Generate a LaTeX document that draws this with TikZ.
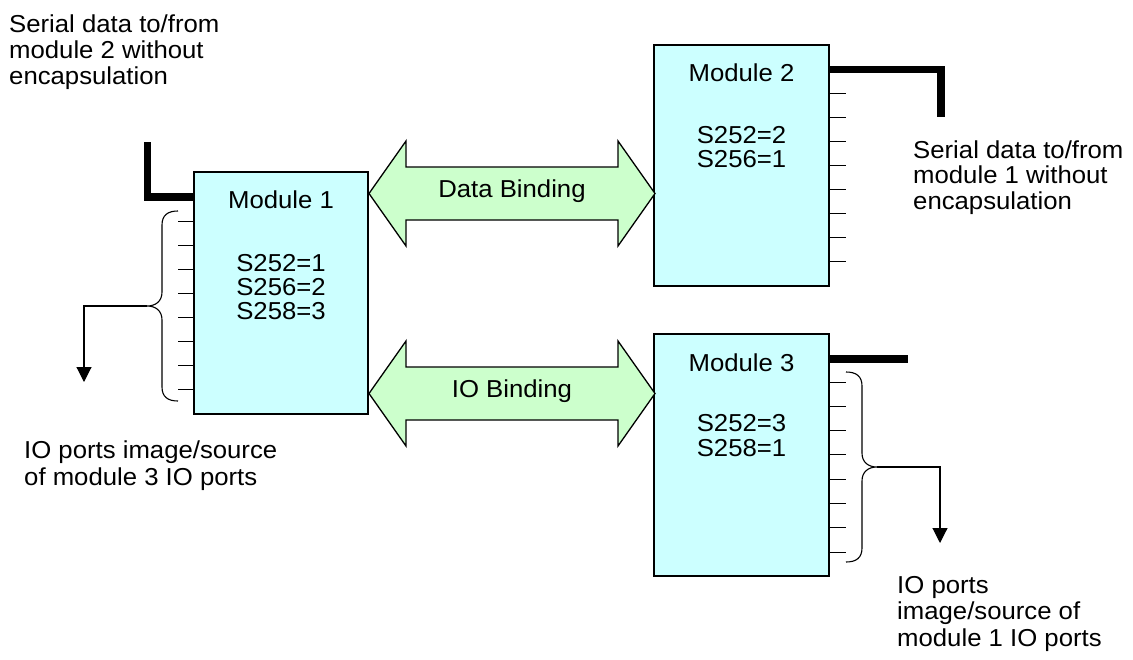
\documentclass[tikz,border=0pt]{standalone}
\usepackage{fontspec}
\setmainfont{Liberation Sans}[FakeStretch=1.05]
\usetikzlibrary{arrows.meta}
\definecolor{boxfill}{HTML}{CCFFFF}
\definecolor{arrowfill}{HTML}{CCFFCC}
\newcommand{\txtblock}[3]{{\fontsize{24.5}{#1}\selectfont\begin{tabular}[t]{@{}#2@{}}#3\end{tabular}}}
\begin{document}
\begin{tikzpicture}[x=1pt,y=-1pt,
  module/.style={draw, line width=1.3pt, fill=boxfill, inner sep=0pt},
  binding/.style={draw, line width=1.3pt, fill=arrowfill, line join=miter},
  port/.style={line width=1pt},
  serial/.style={line width=7.5pt},
  txt/.style={inner sep=0pt, font=\fontsize{24.5}{26.5}\selectfont},
  feed/.style={line width=1.1pt, -{Triangle[width=15pt,length=15pt]}},
  brace/.style={line width=1.1pt}
]
\useasboundingbox (0,0) rectangle (1133,659);

% modules
\node[module, minimum width=174pt, minimum height=242pt] (m1) at (281,293) {};
\node[module, minimum width=175pt, minimum height=241pt] (m2) at (741.5,165.5) {};
\node[module, minimum width=175pt, minimum height=242pt] (m3) at (741.5,455) {};

\node[txt, anchor=base] (m1name) at (281,208) {Module 1};
\node[txt, anchor=base] (m1regs) at (281,271) {\txtblock{24}{c}{S252=1\\S256=2\\S258=3}};
\node[txt, anchor=base] (m2name) at (741.5,81) {Module 2};
\node[txt, anchor=base] (m2regs) at (741.5,143) {\txtblock{24.5}{c}{S252=2\\S256=1}};
\node[txt, anchor=base] (m3name) at (741.5,371) {Module 3};
\node[txt, anchor=base] (m3regs) at (741.5,431) {\txtblock{25}{c}{S252=3\\S258=1}};

% bindings
\draw[binding] (369,193.5) -- (406,141) -- (406,167) -- (618,167) -- (618,141) -- (655,193.5)
  -- (618,246) -- (618,220) -- (406,220) -- (406,246) -- cycle;
\node[txt, anchor=base] (dbtext) at (512,197) {Data Binding};
\draw[binding] (369,393.5) -- (406,341) -- (406,367) -- (618,367) -- (618,341) -- (655,393.5)
  -- (618,446) -- (618,420) -- (406,420) -- (406,446) -- cycle;
\node[txt, anchor=base] (iotext) at (512,397) {IO Binding};

% ports
\foreach \i in {0,...,7} {
  \draw[port] (178,{221+24*\i}) -- (194,{221+24*\i});
  \draw[port] (829,{93+24.1*\i}) -- (846,{93+24.1*\i});
  \draw[port] (829,{382+24.3*\i}) -- (846,{382+24.3*\i});
}

% serial lines
\draw[serial] (147.5,142) |- (m1.west |- 0,197);
\draw[serial] (m2.east |- 0,69.5) -| (941,117);
\draw[serial] (m3.east |- 0,359) -- (908,359);

% braces
\coordinate (b1tip) at (147,306);
\coordinate (b1end) at (84,382);
\draw[brace] (178,211) .. controls (168,211) and (162,215) .. (162,225) -- (162,292)
  .. controls (162,301) and (156,306) .. (b1tip)
  .. controls (156,306) and (162,311) .. (162,320) -- (162,387)
  .. controls (162,397) and (168,401) .. (178,401);
\draw[feed] (b1tip) -| (b1end);

\coordinate (b3tip) at (877,467);
\coordinate (b3end) at (940,543);
\draw[brace] (846,372) .. controls (856,372) and (862,376) .. (862,386) -- (862,453)
  .. controls (862,462) and (868,467) .. (b3tip)
  .. controls (868,467) and (862,472) .. (862,481) -- (862,548)
  .. controls (862,558) and (856,562) .. (846,562);
\draw[feed] (b3tip) -| (b3end);

% outside texts
\node[txt, anchor=base west] (t1) at (9,32) {\txtblock{26}{l}{Serial data to/from\\module 2 without\\encapsulation}};
\node[txt, anchor=base west] (t2) at (913,158) {\txtblock{25.5}{l}{Serial data to/from\\module 1 without\\encapsulation}};
\node[txt, anchor=base west] (t3) at (24,458) {\txtblock{27}{l}{IO ports image/source\\of module 3 IO ports}};
\node[txt, anchor=base west] (t4) at (897,593) {\txtblock{26.5}{l}{IO ports\\image/source of\\module 1 IO ports}};
\end{tikzpicture}
\end{document}
